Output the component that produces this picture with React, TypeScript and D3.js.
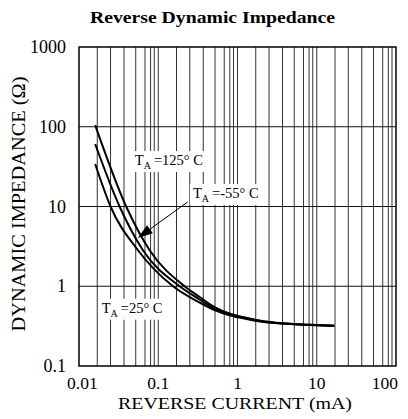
import React, { useEffect, useRef } from 'react';
import * as d3 from 'd3';

// ---- data ----
const xDecades = [0.01, 0.1, 1, 10, 100];
const xTickLabels = ['0.01', '0.1', '1', '10', '100'];
const yDecades = [0.1, 1, 10, 100, 1000];
const yTickLabels = ['0.1', '1', '10', '100', '1000'];
// minor vertical grid lines inside each decade (as drawn on the original sheet)
const gridMultipliers = [1.7, 2.5, 3.7, 5.2, 6.8, 8.0, 8.9];

// [reverse current (mA), dynamic impedance (Ω)]
const curve125: [number, number][] = [
  [0.016, 105], [0.0394, 10], [0.0775, 2.85], [0.215, 1.0], [0.333, 0.733], [0.514, 0.549],
  [0.793, 0.455], [1.415, 0.394], [2.06, 0.367], [3.68, 0.344], [8.05, 0.33], [16.6, 0.321],
];
const curveM55: [number, number][] = [
  [0.016, 60.8], [0.0325, 10], [0.0638, 2.85], [0.186, 1.0], [0.333, 0.682], [0.514, 0.526],
  [0.793, 0.442], [1.415, 0.3885], [2.06, 0.362], [3.68, 0.342], [8.05, 0.328], [16.6, 0.319],
];
const curve25: [number, number][] = [
  [0.016, 34.1], [0.025, 10], [0.0552, 2.85], [0.1536, 1.0], [0.333, 0.6255], [0.514, 0.504],
  [0.793, 0.432], [1.415, 0.382], [2.06, 0.358], [3.68, 0.34], [8.05, 0.3266], [16.6, 0.3174],
];
const curves = [curve125, curveM55, curve25];

const labelTexts = ['=125° C', '=-55° C', '=25° C'];
// label anchor [mA, Ω]
const labelPos: [number, number][] = [[0.0506, 33.1], [0.274, 12.8], [0.0193, 0.466]];
// arrow for -55 label: tail, tip [mA, Ω]
const arrowTail: [number, number] = [0.235, 11.4];
const arrowTip: [number, number] = [0.0552, 4.03];

const W = 408, H = 419;
const plot = { left: 79, right: 396, top: 47, bottom: 366 };
const FONT = 'Liberation Serif, Tinos, Times New Roman, Times, serif';

export default function App() {
  const ref = useRef<SVGSVGElement>(null);
  useEffect(() => {
    const svg = d3.select(ref.current);
    svg.selectAll('*').remove();
    const x = d3.scaleLog().domain([0.01, 100]).range([plot.left, plot.right]);
    const y = d3.scaleLog().domain([0.1, 1000]).range([plot.bottom, plot.top]);

    svg.append('rect').attr('width', W).attr('height', H).attr('fill', '#fff');

    // vertical grid
    const vGrid: number[] = [];
    xDecades.slice(0, -1).forEach((d, i) => {
      gridMultipliers.forEach(m => vGrid.push(d * m));
      if (i > 0) vGrid.push(d);
    });
    svg.append('g').selectAll('line').data(vGrid).join('line')
      .attr('x1', d => x(d)).attr('x2', d => x(d))
      .attr('y1', plot.top).attr('y2', plot.bottom)
      .attr('stroke', '#333').attr('stroke-width', 1);
    // horizontal grid
    svg.append('g').selectAll('line').data(yDecades.slice(1, -1)).join('line')
      .attr('x1', plot.left).attr('x2', plot.right)
      .attr('y1', d => y(d)).attr('y2', d => y(d))
      .attr('stroke', '#111').attr('stroke-width', 1);

    // frame
    svg.append('rect').attr('x', plot.left).attr('y', plot.top)
      .attr('width', plot.right - plot.left).attr('height', plot.bottom - plot.top)
      .attr('fill', 'none').attr('stroke', '#000').attr('stroke-width', 1.5);

    // curves
    const line = d3.line<[number, number]>().x(d => x(d[0])).y(d => y(d[1])).curve(d3.curveMonotoneX);
    svg.append('g').selectAll('path').data(curves).join('path')
      .attr('d', d => line(d) as string)
      .attr('fill', 'none').attr('stroke', '#000').attr('stroke-width', 2);

    // labels with white background
    labelTexts.forEach((t, i) => {
      const g = svg.append('g');
      const bg = g.append('rect').attr('fill', '#fff');
      const txt = g.append('text').attr('x', x(labelPos[i][0])).attr('y', y(labelPos[i][1]))
        .style('font-family', FONT).attr('font-size', 14.5).attr('fill', '#000');
      txt.append('tspan').text('T');
      txt.append('tspan').attr('dy', 4).attr('font-size', 10).text('A');
      txt.append('tspan').attr('dy', -4).attr('dx', 3).text(t);
      const bb = (txt.node() as SVGTextElement).getBBox();
      bg.attr('x', bb.x - 3).attr('y', bb.y - 1).attr('width', bb.width + 6).attr('height', bb.height + 2);
    });

    // arrow
    const tx = x(arrowTail[0]), ty = y(arrowTail[1]);
    const hx = x(arrowTip[0]), hy = y(arrowTip[1]);
    const ang = Math.atan2(hy - ty, hx - tx);
    const hl = 15, hw = 5;
    const bx = hx - hl * Math.cos(ang), by = hy - hl * Math.sin(ang);
    svg.append('line').attr('x1', tx).attr('y1', ty).attr('x2', bx).attr('y2', by)
      .attr('stroke', '#000').attr('stroke-width', 1);
    svg.append('path')
      .attr('d', `M${hx},${hy}L${bx + hw * Math.sin(ang)},${by - hw * Math.cos(ang)}L${bx - hw * Math.sin(ang)},${by + hw * Math.cos(ang)}Z`)
      .attr('fill', '#000');

    // x tick labels
    svg.append('g').selectAll('text').data(xDecades).join('text')
      .attr('x', (d, i) => x(d) + (i === 0 ? -12 : i === xDecades.length - 1 ? 2 : 0))
      .attr('y', 389)
      .attr('text-anchor', (d, i) => i === 0 ? 'start' : i === xDecades.length - 1 ? 'end' : 'middle')
      .style('font-family', FONT).attr('font-size', 17.5).text((d, i) => xTickLabels[i]);
    // y tick labels
    svg.append('g').selectAll('text').data(yDecades).join('text')
      .attr('x', 66).attr('y', d => y(d) + 6)
      .attr('text-anchor', 'end')
      .style('font-family', FONT).attr('font-size', 18).text((d, i) => yTickLabels[i]);

    // axis titles
    svg.append('text').attr('x', 235).attr('y', 408.5).attr('text-anchor', 'middle')
      .style('font-family', FONT).attr('font-size', 17)
      .attr('textLength', 234).attr('lengthAdjust', 'spacingAndGlyphs')
      .text('REVERSE CURRENT (mA)');
    svg.append('text').attr('transform', 'translate(25,204) rotate(-90)').attr('text-anchor', 'middle')
      .style('font-family', FONT).attr('font-size', 18)
      .attr('textLength', 255).attr('lengthAdjust', 'spacingAndGlyphs')
      .text('DYNAMIC IMPEDANCE (Ω)');
    // title
    svg.append('text').attr('x', 212.5).attr('y', 23).attr('text-anchor', 'middle')
      .style('font-family', FONT).attr('font-size', 16.5).attr('font-weight', 'bold')
      .attr('textLength', 245).attr('lengthAdjust', 'spacingAndGlyphs')
      .text('Reverse Dynamic Impedance');
  }, []);
  return (
    <svg ref={ref} width={W} height={H} style={{ position: 'absolute', left: 0, top: 0 }} />
  );
}
